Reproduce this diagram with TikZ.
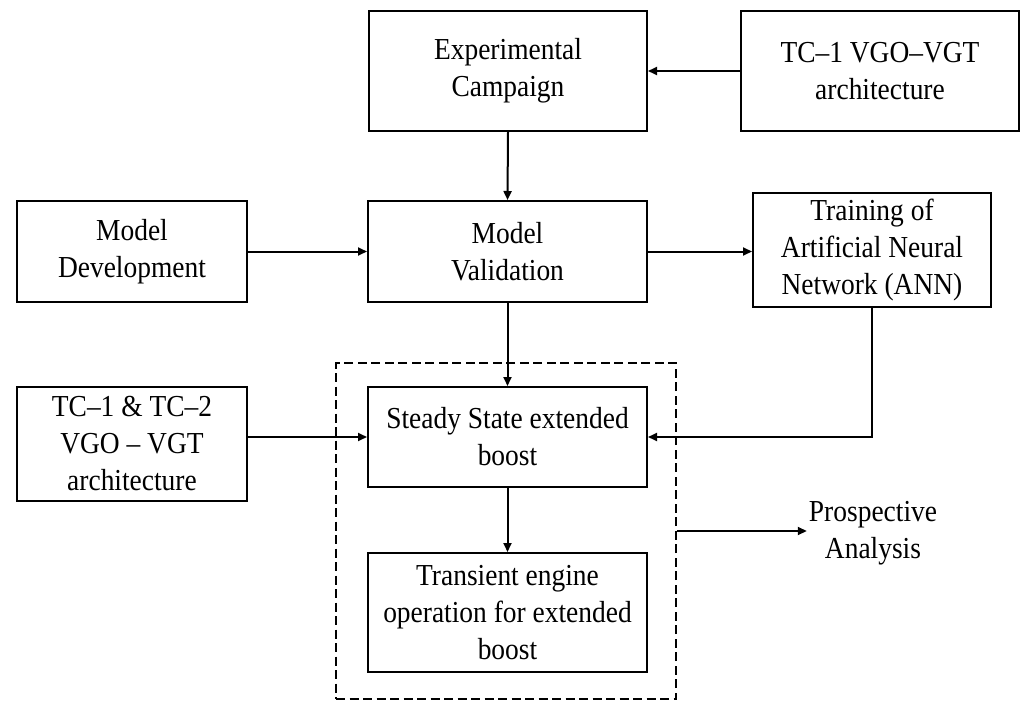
\documentclass[tikz,border=0pt]{standalone}
\usepackage{fontspec}
\setmainfont{Liberation Serif}[FakeStretch=0.9]
\usetikzlibrary{arrows.meta}
\begin{document}
\begin{tikzpicture}[x=1pt,y=-1pt,
  every node/.style={font=\fontsize{30.5}{37}\selectfont, align=center, inner sep=2pt},
  box/.style={draw, line width=2pt},
  flow/.style={line width=2pt, -{Triangle[length=9pt,width=8pt]}},
  group/.style={draw, line width=1.8pt, dash pattern=on 9pt off 4.5pt}]
\useasboundingbox (0,0) rectangle (1021,701);

% main boxes
\node[box, minimum width=278, minimum height=120] (exp) at (508,71) {Experimental\\Campaign};
\node[box, minimum width=278, minimum height=120] (tc1) at (880,71) {TC–1 VGO–VGT\\architecture};
\node[box, minimum width=230, minimum height=101] (md) at (132,251.5) {Model\\Development};
\node[box, minimum width=279, minimum height=101] (mv) at (507.5,251.5) {Model\\Validation};
\node[box, minimum width=238, minimum height=114] (ann) at (872,250) {Training of\\Artificial Neural\\Network (ANN)};
\node[box, minimum width=230, minimum height=114] (tc12) at (132,444) {TC–1 \& TC–2\\VGO – VGT\\architecture};

% dashed group with the two analysis stages
\node[group, minimum width=340, minimum height=336] (grp) at (506,531) {};
\node[box, minimum width=279, minimum height=100] (ss) at (507.5,437) {Steady State extended\\boost};
\node[box, minimum width=279, minimum height=119] (tr) at (507.5,612.5) {Transient engine\\operation for extended\\boost};

\node (pa) at (873,533) {Prospective\\Analysis};

% connectors
\draw[flow] (tc1.west) -- (exp.east);
\draw[flow] (exp.south) -- (mv.north);
\draw[flow] (md.east) -- (mv.west);
\draw[flow] (mv.east) -- (mv.east -| ann.west);
\draw[flow] (mv.south) -- (ss.north);
\draw[flow] (ann.south) |- (ss.east);
\draw[flow] (ss.west -| tc12.east) -- (ss.west);
\draw[flow] (ss.south) -- (tr.north);
\draw[flow] (grp.east) -- (grp.east -| pa.west);
\end{tikzpicture}
\end{document}
